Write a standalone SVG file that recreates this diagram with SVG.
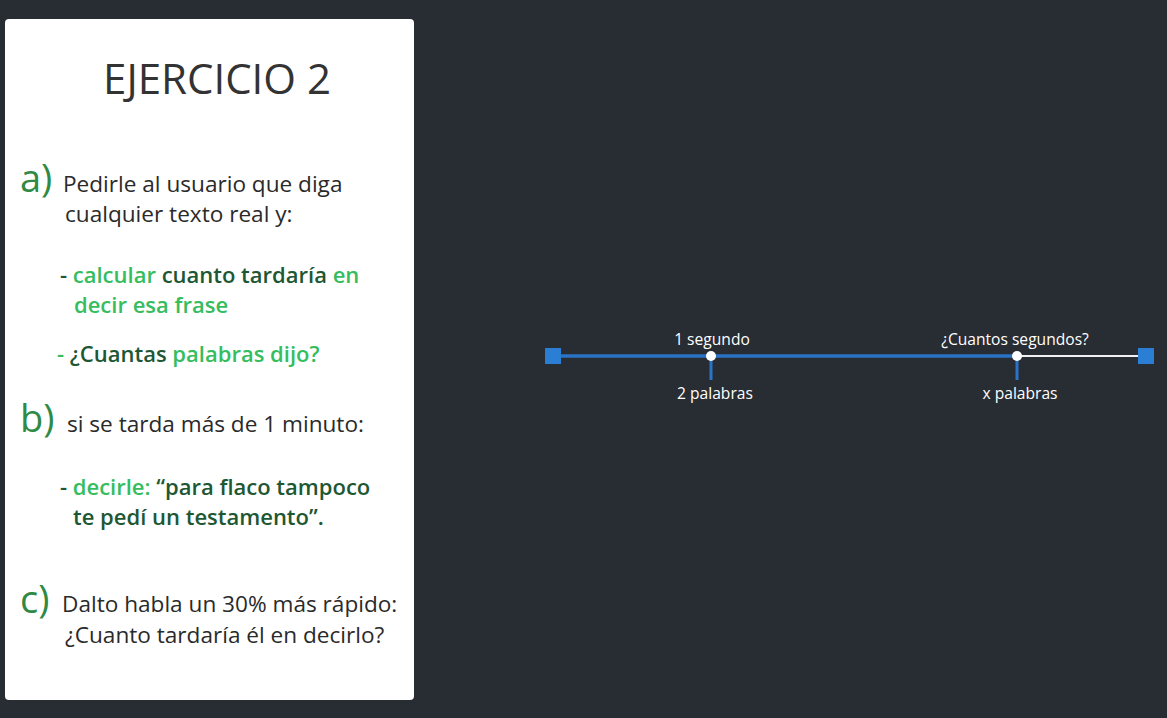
<svg xmlns="http://www.w3.org/2000/svg" width="1167" height="718" viewBox="0 0 1167 718">
<style>
.t{font-family:"Open Sans","Noto Sans",sans-serif;}
.body{font-size:22.6px;fill:#2a2a2a;}
.b{font-weight:600;font-size:22px;}
.lg{fill:#35bd5e;}
.dg{fill:#1d5734;}
.let{font-size:38px;fill:#2f8a45;}
.lbl{font-family:"Open Sans","Noto Sans",sans-serif;font-size:15.6px;fill:#ffffff;text-anchor:middle;}
</style>
<rect x="0" y="0" width="1167" height="718" fill="#282c33"/>
<g id="panel">
<rect x="5" y="19" width="409" height="681" rx="4" fill="#ffffff"/>
<text class="t" x="217" y="94" font-size="42" fill="#333333" text-anchor="middle">EJERCICIO 2</text>
<text class="t let" x="20" y="192">a)</text>
<text class="t body" x="63" y="192">Pedirle al usuario que diga</text>
<text class="t body" x="65" y="222">cualquier texto real y:</text>
<text class="t b" x="60" y="283"><tspan class="dg">- </tspan><tspan class="lg">calcular</tspan><tspan class="dg"> cuanto tardaría</tspan><tspan class="lg"> en</tspan></text>
<text class="t b lg" x="74" y="313">decir esa frase</text>
<text class="t b" x="57" y="362"><tspan class="lg">- </tspan><tspan class="dg">¿Cuantas</tspan><tspan class="lg"> palabras dijo?</tspan></text>
<text class="t let" x="20" y="432">b)</text>
<text class="t body" x="67" y="432">si se tarda más de 1 minuto:</text>
<text class="t b" x="60" y="495"><tspan class="dg">- </tspan><tspan class="lg">decirle: </tspan><tspan class="dg">“para flaco tampoco</tspan></text>
<text class="t b dg" x="73" y="525">te pedí un testamento”.</text>
<text class="t let" x="20" y="613">c)</text>
<text class="t body" x="62" y="612">Dalto habla un 30% más rápido:</text>
<text class="t body" x="65" y="643">¿Cuanto tardaría él en decirlo?</text>
</g>
<g id="connectors">
<line x1="553" y1="356" x2="1017" y2="356" stroke="#2a73c6" stroke-width="3.5"/>
<line x1="1017" y1="356" x2="1140" y2="356" stroke="#f2f2f2" stroke-width="2"/>
<line x1="711" y1="356" x2="711" y2="380" stroke="#2a73c6" stroke-width="3"/>
<line x1="1017" y1="356" x2="1017" y2="380" stroke="#2a73c6" stroke-width="3"/>
</g>
<g id="end-left"><rect x="545" y="348" width="16" height="16" fill="#2a7fd4"/></g>
<g id="end-right"><rect x="1138" y="348" width="16" height="16" fill="#2a7fd4"/></g>
<g id="point-1">
<circle cx="711" cy="356" r="5" fill="#ffffff"/>
<text class="lbl" x="712" y="345">1 segundo</text>
<text class="lbl" x="715" y="399">2 palabras</text>
</g>
<g id="point-x">
<circle cx="1017" cy="356" r="5" fill="#ffffff"/>
<text class="lbl" x="1015" y="345">¿Cuantos segundos?</text>
<text class="lbl" x="1020" y="399">x palabras</text>
</g>
</svg>
